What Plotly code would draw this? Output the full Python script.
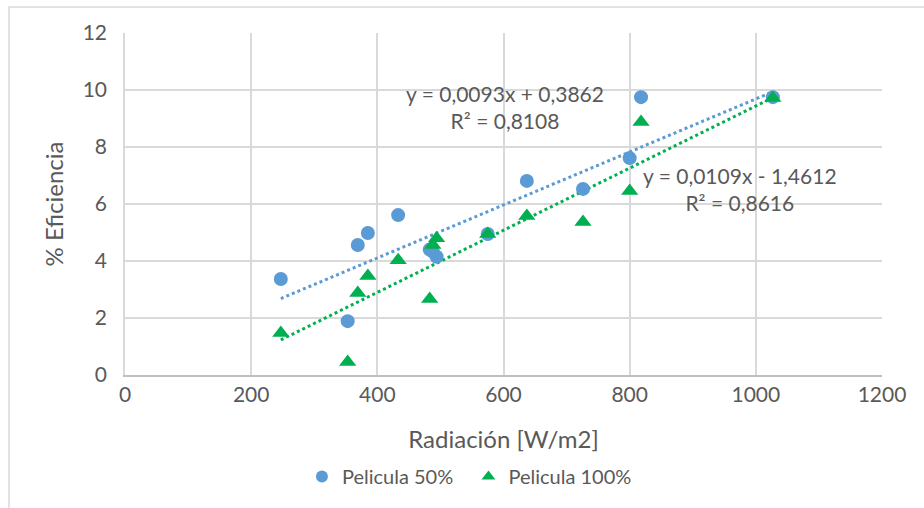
import plotly.graph_objects as go
import numpy as np

# Data
rad = [247, 353, 369, 385, 433, 483, 488, 494, 575, 637, 726, 800, 818, 1027]
ef_50 = [3.37, 1.89, 4.56, 4.98, 5.61, 4.40, 4.33, 4.15, 4.95, 6.81, 6.53, 7.61, 9.75, 9.75]
ef_100 = [1.47, 0.46, 2.88, 3.47, 4.03, 2.67, 4.56, 4.80, 4.95, 5.58, 5.37, 6.46, 8.88, 9.72]

# Trendline coefficients (from the chart labels)
slope_50, icpt_50, r2_50 = 0.0093, 0.3862, 0.8108
slope_100, icpt_100, r2_100 = 0.0109, -1.4612, 0.8616

x_ticks = [0, 200, 400, 600, 800, 1000, 1200]
y_ticks = [0, 2, 4, 6, 8, 10, 12]

BLUE = "#5B9BD5"
GREEN = "#00B050"
TXT = "#595959"
FONT = "Lato"

xr = np.array([min(rad), max(rad)])

fig = go.Figure()
fig.add_trace(go.Scatter(
    x=xr, y=slope_50 * xr + icpt_50, mode="lines",
    line=dict(color=BLUE, width=3, dash="dot"), showlegend=False, hoverinfo="skip"))
fig.add_trace(go.Scatter(
    x=xr, y=slope_100 * xr + icpt_100, mode="lines",
    line=dict(color=GREEN, width=3, dash="dot"), showlegend=False, hoverinfo="skip"))
fig.add_trace(go.Scatter(
    x=rad, y=ef_50, mode="markers", name="Pelicula 50%  ",
    marker=dict(symbol="circle", size=14, color=BLUE)))
fig.add_trace(go.Scatter(
    x=rad, y=ef_100, mode="markers", name="Pelicula 100%",
    marker=dict(symbol="triangle-up", size=15, color=GREEN)))

def eq_text(m, b, r2):
    sign = "+" if b >= 0 else "-"
    fmt = lambda v, n: f"{v:.{n}f}".replace(".", ",")
    return f"y = {fmt(m, 4)}x {sign} {fmt(abs(b), 4)}<br>R² = {fmt(r2, 4)}"

fig.add_annotation(x=602, y=9.42, xref="x", yref="y", showarrow=False,
                   text=eq_text(slope_50, icpt_50, r2_50), align="center",
                   font=dict(family=FONT, size=21, color=TXT))
fig.add_annotation(x=975, y=6.51, xref="x", yref="y", showarrow=False,
                   text=eq_text(slope_100, icpt_100, r2_100), align="center",
                   font=dict(family=FONT, size=21, color=TXT))

# outer chart border (extends past right/bottom of the view)
pw, ph = 757, 342
fig.add_shape(type="rect", xref="paper", yref="paper",
              x0=(9 - 125) / pw, x1=(930 - 125) / pw,
              y0=-(515 - 375) / ph, y1=1 + (33 - 7) / ph,
              line=dict(color="#D9D9D9", width=1.5), layer="below")

fig.update_layout(
    width=924, height=508,
    margin=dict(l=125, r=42, t=33, b=133),
    paper_bgcolor="white", plot_bgcolor="white",
    font=dict(family=FONT, color=TXT, size=20),
    legend=dict(orientation="h", x=0.455, xanchor="center", y=-0.24, yanchor="top",
                font=dict(family=FONT, size=20, color=TXT),
                tracegroupgap=0, itemsizing="constant"),
    xaxis=dict(range=[0, 1200], tickvals=x_ticks, showgrid=True, gridcolor="#D9D9D9",
               gridwidth=1.5, zeroline=False, showline=True, linecolor="#BFBFBF", linewidth=1.5,
               ticks="", tickfont=dict(size=21, color=TXT),
               title=dict(text="Radiación [W/m2]", font=dict(size=24, color=TXT), standoff=26)),
    yaxis=dict(range=[0, 12], tickvals=y_ticks, showgrid=True, gridcolor="#D9D9D9",
               gridwidth=1.5, zeroline=False, showline=True, linecolor="#D9D9D9", linewidth=1.5,
               ticks="", ticklabelstandoff=12, tickfont=dict(size=21, color=TXT),
               title=dict(text="% Eficiencia", font=dict(size=24, color=TXT), standoff=12)),
)

fig.write_html("out.html")
